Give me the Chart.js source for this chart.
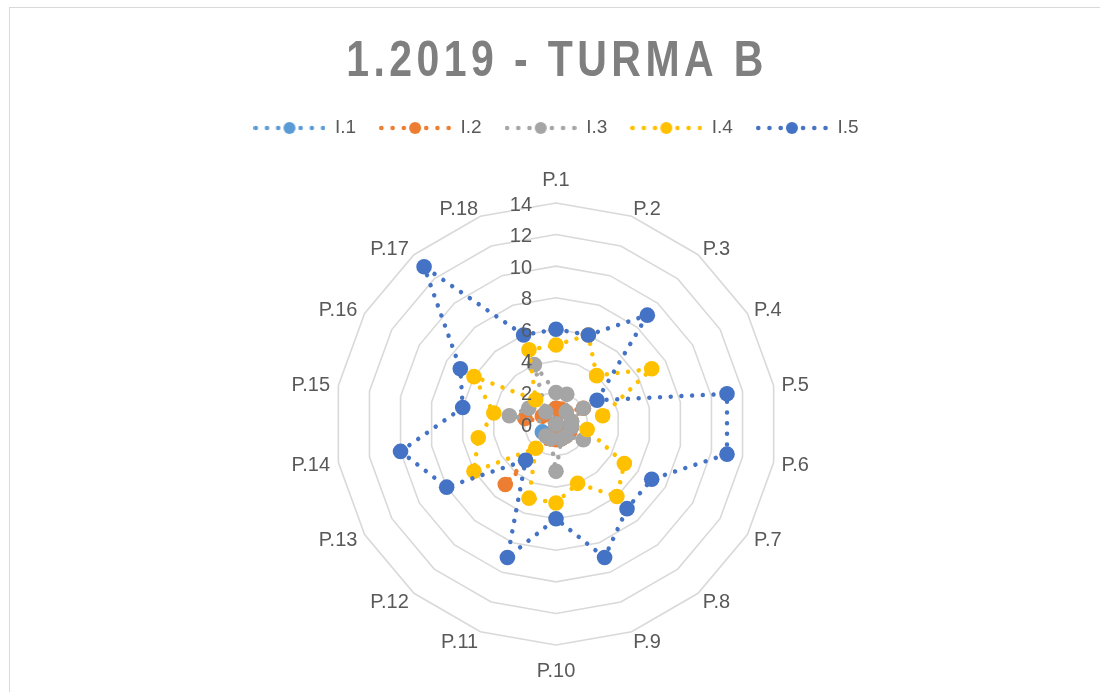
<!DOCTYPE html>
<html>
<head>
<meta charset="utf-8">
<script src="https://cdn.jsdelivr.net/npm/chart.js@4/dist/chart.umd.min.js"></script>
<style>
  html, body { margin: 0; padding: 0; background: #fff; }
  #frame { position: absolute; left: 9px; top: 7px; width: 1200px; height: 800px; border: 1px solid #d9d9d9; }
  #chart { position: absolute; left: 0; top: 0; }
</style>
</head>
<body>
<div id="frame"></div>
<canvas id="chart" width="1100" height="692"></canvas>
<script>
const categories = ['P.1', 'P.2', 'P.3', 'P.4', 'P.5', 'P.6', 'P.7', 'P.8', 'P.9',
  'P.10', 'P.11', 'P.12', 'P.13', 'P.14', 'P.15', 'P.16', 'P.17', 'P.18'];
const seriesNames = ['I.1', 'I.2', 'I.3', 'I.4', 'I.5'];
const i1 = [1, 0, 0, 0, 0, 0, 0, 0, 0, 0, 0, 0, 1, 0, 0, 0, 0, 0];
const i2 = [1, 1, 1, 2, 1, 1, 1, 1, 1, 1, 1, 5, 0, 0, 2, 1, 0, 0];
const i3 = [2, 2, 1, 2, 1, 1, 2, 1, 1, 3, 1, 1, 0, 0, 3, 2, 1, 4];
const i4 = [5, 6, 4, 7, 3, 2, 5, 6, 4, 5, 5, 2, 6, 5, 4, 6, 2, 5];
const i5 = [6, 6, 9, 3, 11, 11, 7, 7, 9, 6, 9, 3, 8, 10, 6, 7, 13, 6];
const tickValues = [0, 2, 4, 6, 8, 10, 12, 14];
const colors = ['#5B9BD5', '#ED7D31', '#A5A5A5', '#FFC000', '#4472C4'];
const titleText = '1.2019 - TURMA B';

const textColor = '#595959';
const labelFont = '20px "Liberation Sans", Arial, sans-serif';

// little dotted line + marker, used as the legend symbol
function legendSample(color) {
  const c = document.createElement('canvas');
  c.width = 72; c.height = 14;
  const g = c.getContext('2d');
  g.strokeStyle = color;
  g.lineWidth = 4.6;
  g.lineCap = 'round';
  g.setLineDash([0.01, 11.2]);
  g.beginPath();
  g.moveTo(2.3, 7);
  g.lineTo(70, 7);
  g.stroke();
  g.setLineDash([]);
  g.fillStyle = color;
  g.beginPath();
  g.arc(36, 7, 6, 0, Math.PI * 2);
  g.fill();
  return c;
}

// Excel-like title: bold, condensed, letter-spaced
const titlePlugin = {
  id: 'spacedTitle',
  afterDraw(chart) {
    const ctx = chart.ctx;
    ctx.save();
    ctx.translate(557, 76);
    ctx.scale(0.82, 1);
    ctx.font = 'bold 50px "Liberation Sans", Arial, sans-serif';
    if ('letterSpacing' in ctx) ctx.letterSpacing = '5.4px';
    ctx.fillStyle = '#7f7f7f';
    ctx.textAlign = 'center';
    ctx.textBaseline = 'alphabetic';
    ctx.fillText(titleText, 0, 0);
    ctx.restore();
  }
};

// category labels placed the way Excel does it (side labels centred on the spoke end)
const pointLabelPlugin = {
  id: 'excelPointLabels',
  beforeDatasetsDraw(chart) {
    const scale = chart.scales.r;
    const ctx = chart.ctx;
    ctx.save();
    ctx.font = labelFont;
    ctx.fillStyle = textColor;
    ctx.textBaseline = 'alphabetic';
    categories.forEach((label, i) => {
      const p = scale.getPointPosition(i, scale.drawingArea + 9.5);
      const dx = p.x - scale.xCenter;
      if (Math.abs(dx) < 1) {
        const e = scale.getPointPosition(i, scale.drawingArea + 17.5);
        ctx.textAlign = 'center';
        ctx.fillText(label, e.x, e.y < scale.yCenter ? e.y : e.y + 14.3);
      } else if (dx > 0) {
        ctx.textAlign = 'left';
        ctx.fillText(label, p.x - 1.5, p.y + 7.2);
      } else {
        ctx.textAlign = 'right';
        ctx.fillText(label, p.x + 1, p.y + 7.2);
      }
    });
    ctx.restore();
  }
};

const tickPlugin = {
  id: 'tickLabels',
  afterDatasetsDraw(chart) {
    const scale = chart.scales.r;
    const ctx = chart.ctx;
    ctx.save();
    ctx.font = '20px "Liberation Sans", Arial, sans-serif';
    ctx.fillStyle = textColor;
    ctx.textAlign = 'right';
    ctx.textBaseline = 'middle';
    tickValues.forEach((v) => {
      const d = scale.getDistanceFromCenterForValue(v);
      ctx.fillText(String(v), scale.xCenter - 24, scale.yCenter - d + 2);
    });
    ctx.restore();
  }
};

const datasets = [i1, i2, i3, i4, i5].map((values, i) => ({
  label: seriesNames[i],
  data: values,
  borderColor: colors[i],
  backgroundColor: colors[i],
  borderWidth: 4.5,
  borderDash: [0.01, 10.7],
  borderCapStyle: 'round',
  borderJoinStyle: 'round',
  fill: false,
  pointRadius: 7.8,
  pointBorderWidth: 0,
  pointBackgroundColor: colors[i],
  pointBorderColor: colors[i],
  order: 5 - i
}));

new Chart(document.getElementById('chart'), {
  type: 'radar',
  data: { labels: categories, datasets: datasets },
  options: {
    responsive: false,
    animation: false,
    layout: { padding: { top: 95.5, bottom: 46.5, left: 12, right: 0 } },
    plugins: {
      title: { display: false },
      // empty subtitle used as a gap between legend and plot
      subtitle: { display: true, text: '', weight: 500, padding: 0, font: { size: 1, lineHeight: '55px' } },
      tooltip: { enabled: false },
      legend: {
        position: 'top',
        labels: {
          usePointStyle: true,
          pointStyleWidth: 72,
          padding: 23,
          color: textColor,
          font: { size: 19, family: '"Liberation Sans", Arial, sans-serif' },
          generateLabels: (chart) => chart.data.datasets.map((ds, i) => ({
            text: ds.label,
            pointStyle: legendSample(ds.borderColor),
            fillStyle: ds.borderColor,
            strokeStyle: ds.borderColor,
            lineWidth: 0,
            fontColor: textColor,
            hidden: false,
            datasetIndex: i
          }))
        }
      }
    },
    scales: {
      r: {
        min: 0,
        max: 14,
        ticks: { stepSize: 2, display: false },
        grid: { color: '#d9d9d9', lineWidth: 1.6 },
        angleLines: { display: false },
        pointLabels: { display: false }
      }
    }
  },
  plugins: [titlePlugin, pointLabelPlugin, tickPlugin]
});
</script>
</body>
</html>
